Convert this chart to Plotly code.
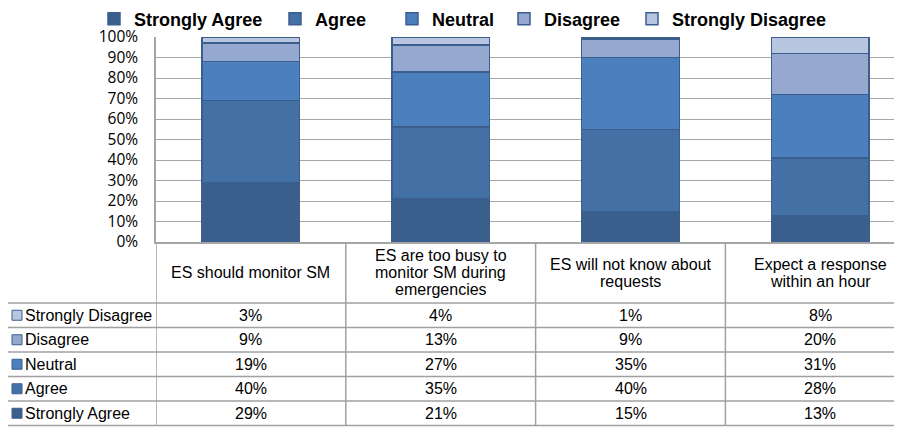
import plotly.graph_objects as go

# categories (table header text) and survey shares in percent
categories = [
    "ES should monitor SM",
    "ES are too busy to<br>monitor SM during<br>emergencies",
    "ES will not know about<br>requests",
    "Expect a response<br>within an hour",
]
strongly_agree = [29, 21, 15, 13]
agree = [40, 35, 40, 28]
neutral = [19, 27, 35, 31]
disagree = [9, 13, 9, 20]
strongly_disagree = [3, 4, 1, 8]

series = [
    ("Strongly Agree", strongly_agree, "#3A5F8D"),
    ("Agree", agree, "#4371A6"),
    ("Neutral", neutral, "#4C7FBD"),
    ("Disagree", disagree, "#95A9D0"),
    ("Strongly Disagree", strongly_disagree, "#B9C6E0"),
]

W, H = 902, 429
OFF = 8                  # the page body margin shifts the figure by 8px
L = 156 - OFF            # y axis at page x=156
T = 37 - OFF             # 100% line at page y=37
B = H - (242 - OFF)      # 0% line at page y=242
R = 0
plot_w = W - L - R
plot_h = H - T - B
col_px = 189.8          # width of one category column in pixels
outline = "#3B5E8C"
grid = "#A6A6A6"
tbl = "#A0A0A0"
font_tbl = "Liberation Sans, Arial"


def py(ypx):
    # page pixel row -> paper y
    return (H - B - (ypx - OFF)) / plot_h


def px(xpx):
    # page pixel column -> paper x
    return (xpx - OFF - L) / plot_w


# left edge of each legend entry's text, page pixels
legend_text_x = [130, 311, 428, 540, 668]

fig = go.Figure()
xs = list(range(len(categories)))
for k, (name, vals, color) in enumerate(series):
    fig.add_trace(go.Bar(
        x=xs, y=[v / 100 for v in vals], name=name,
        marker=dict(color=color, line=dict(color=outline, width=1.5)),
        legend="legend" if k == 0 else f"legend{k + 1}",
        hoverinfo="skip",
    ))

shapes = []
annotations = []

# table geometry (page pixels)
header_bottom = 303
row_h = 24.5
rows = list(reversed(series))  # Strongly Disagree on top
table_bottom = header_bottom + row_h * len(rows)
label_left = 7
line_gap = 17

# horizontal lines
for k in range(len(rows) + 1):
    yy = py(header_bottom + k * row_h)
    shapes.append(dict(type="line", xref="paper", yref="paper",
                       x0=px(label_left), x1=1, y0=yy, y1=yy,
                       line=dict(color=tbl, width=1.5)))
# left border of label column
shapes.append(dict(type="line", xref="paper", yref="paper",
                   x0=px(label_left), x1=px(label_left),
                   y0=py(header_bottom), y1=py(table_bottom),
                   line=dict(color=tbl, width=1.5)))
# column separators
for b in [-0.5, 0.5, 1.5, 2.5]:
    shapes.append(dict(type="line", xref="x", yref="paper",
                       x0=b, x1=b, y0=0, y1=py(table_bottom),
                       line=dict(color=tbl, width=1.5)))

# header labels, one annotation per line for tighter line spacing
mid = (242 + header_bottom) / 2
for i, c in enumerate(categories):
    parts = c.split("<br>")
    for j, part in enumerate(parts):
        yline = mid + (j - (len(parts) - 1) / 2) * line_gap
        annotations.append(dict(x=i, y=py(yline), xref="x", yref="paper",
                                text=part, showarrow=False, xanchor="center", yanchor="middle",
                                font=dict(family=font_tbl, size=16, color="#000")))

# rows
for r, (name, vals, color) in enumerate(rows):
    yc = header_bottom + row_h * (r + 0.5)
    shapes.append(dict(type="rect", xref="paper", yref="paper",
                       x0=px(12), x1=px(22), y0=py(yc - 5), y1=py(yc + 5),
                       fillcolor=color, line=dict(color=outline, width=1)))
    annotations.append(dict(x=px(23), y=py(yc), xref="paper", yref="paper",
                            text=name, showarrow=False, xanchor="left", yanchor="middle",
                            font=dict(family=font_tbl, size=16, color="#000")))
    for i, v in enumerate(vals):
        annotations.append(dict(x=i, y=py(yc), xref="x", yref="paper",
                                text=f"{v}%", showarrow=False, xanchor="center", yanchor="middle",
                                font=dict(family=font_tbl, size=16, color="#000")))

legend_style = dict(orientation="h", xanchor="left", yanchor="middle",
                    bgcolor="rgba(0,0,0,0)", itemwidth=30,
                    font=dict(family="Liberation Sans, Arial", size=18, color="#000", weight="bold"))
legends = {}
for k, tx in enumerate(legend_text_x):
    key = "legend" if k == 0 else f"legend{k + 1}"
    legends[key] = dict(legend_style, x=px(tx - 36), y=py(19))

fig.update_layout(
    width=W, height=H,
    margin=dict(l=L, r=R, t=T, b=B, autoexpand=False),
    barmode="stack",
    bargap=0.486,
    plot_bgcolor="white",
    paper_bgcolor="white",
    shapes=shapes,
    annotations=annotations,
    showlegend=True,
    xaxis=dict(range=[-0.5, -0.5 + plot_w / col_px], showticklabels=False,
               showgrid=False, zeroline=False, showline=True, linecolor=grid, linewidth=1.5,
               fixedrange=True),
    yaxis=dict(range=[0, 1], tickvals=[i / 10 for i in range(11)],
               ticktext=[f"{i * 10}%" for i in range(11)],
               showgrid=True, gridcolor=grid, gridwidth=1.3,
               zeroline=False, showline=True, linecolor=grid, linewidth=1.5,
               ticks="", ticklabelstandoff=13,
               tickfont=dict(family="Open Sans, Lato", size=15.5, color="#000")),
    **legends,
)

fig.write_html("out.html")
